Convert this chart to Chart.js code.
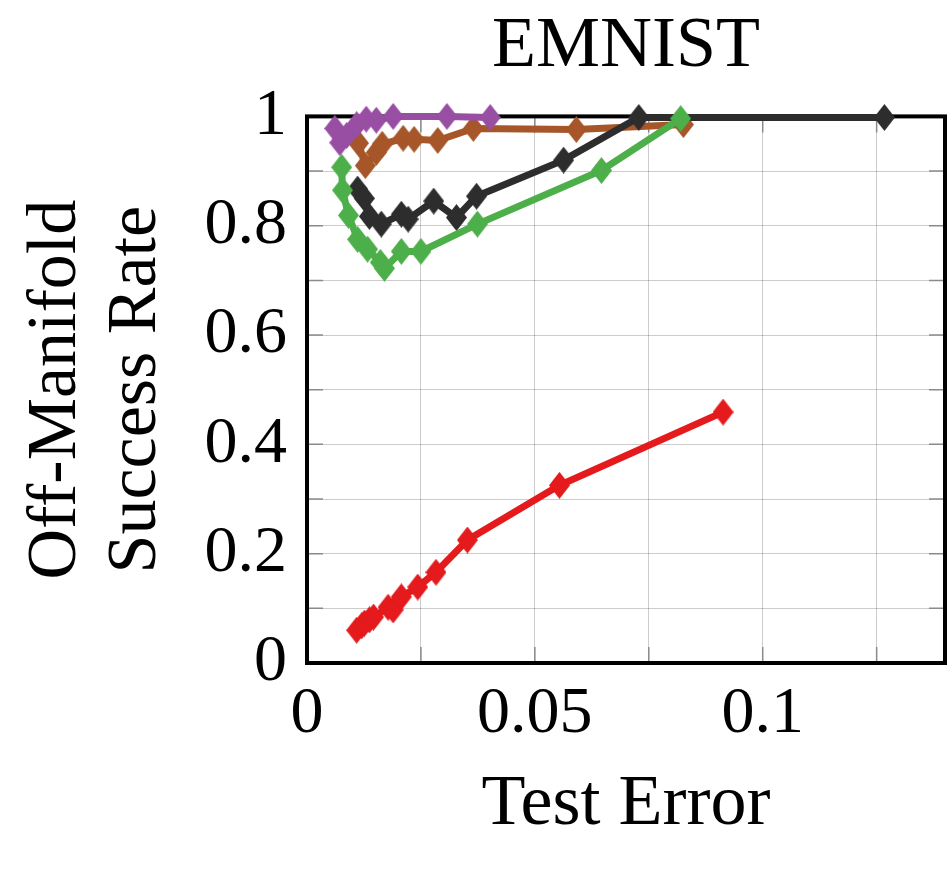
<!DOCTYPE html>
<html>
<head>
<meta charset="utf-8">
<title>EMNIST</title>
<script src="https://cdn.jsdelivr.net/npm/chart.js@4/dist/chart.umd.min.js"></script>
<style>
  html, body { margin: 0; padding: 0; background: #fff; }
  #chart { display: block; }
</style>
</head>
<body>
<canvas id="chart" width="949" height="872"></canvas>
<script>
// ---------------------------------------------------------------------
// Data
// ---------------------------------------------------------------------
const purpleX = [0.0061, 0.0072, 0.0087, 0.0109, 0.0130, 0.0152, 0.0189, 0.0307, 0.0402];
const purpleY = [0.978, 0.952, 0.965, 0.985, 0.995, 0.993, 1.000, 1.000, 0.998];

const greenX = [0.0076, 0.0078, 0.0091, 0.0111, 0.0133, 0.0161, 0.0170, 0.0207, 0.0250, 0.0374, 0.0646, 0.0820];
const greenY = [0.907, 0.865, 0.819, 0.775, 0.757, 0.733, 0.722, 0.753, 0.753, 0.803, 0.901, 0.996];

const blackX = [0.0111, 0.0126, 0.0137, 0.0163, 0.0207, 0.0222, 0.0278, 0.0328, 0.0372, 0.0563, 0.0728, 0.1267];
const blackY = [0.867, 0.850, 0.817, 0.803, 0.821, 0.812, 0.845, 0.815, 0.854, 0.920, 0.998, 0.998];

const brownX = [0.0113, 0.0128, 0.0152, 0.0165, 0.0211, 0.0235, 0.0287, 0.0365, 0.0591, 0.0826];
const brownY = [0.951, 0.910, 0.934, 0.949, 0.960, 0.958, 0.956, 0.978, 0.976, 0.985];

const redX = [0.0109, 0.0120, 0.0126, 0.0137, 0.0146, 0.0178, 0.0189, 0.0207, 0.0243, 0.0283, 0.0352, 0.0554, 0.0913];
const redY = [0.060, 0.068, 0.073, 0.079, 0.084, 0.102, 0.097, 0.121, 0.139, 0.166, 0.225, 0.325, 0.459];

const xTickValues = [0, 0.05, 0.1];
const xTickLabels = ["0", "0.05", "0.1"];
const yTickValues = [0, 0.2, 0.4, 0.6, 0.8, 1];
const yTickLabels = ["0", "0.2", "0.4", "0.6", "0.8", "1"];

// ---------------------------------------------------------------------
// Helpers
// ---------------------------------------------------------------------
const FONT = "'Liberation Serif', 'DejaVu Serif', serif";

function toPoints(xs, ys) {
  return xs.map((x, i) => ({ x, y: ys[i] }));
}

function labelFor(values, labels, v) {
  const i = values.findIndex((t) => Math.abs(t - v) < 1e-9);
  return i >= 0 ? labels[i] : "";
}

// pgfplots-like diamond marker (a bit taller than wide)
function diamond(color, w, h) {
  const c = document.createElement("canvas");
  c.width = w;
  c.height = h;
  const g = c.getContext("2d");
  g.fillStyle = color;
  g.beginPath();
  g.moveTo(w / 2, 0);
  g.lineTo(w, h / 2);
  g.lineTo(w / 2, h);
  g.lineTo(0, h / 2);
  g.closePath();
  g.fill();
  return c;
}

function series(xs, ys, color) {
  return {
    data: toPoints(xs, ys),
    borderColor: color,
    backgroundColor: color,
    borderWidth: 7,
    pointStyle: diamond(color, 21, 27),
    pointRadius: 11,
    pointHoverRadius: 11,
    pointBorderWidth: 0,
    tension: 0,
    clip: false,
  };
}

// frame box + small inward ticks, drawn under the data
const framePlugin = {
  id: "frame",
  beforeDatasetsDraw(chart) {
    const { ctx, chartArea: a, scales } = chart;
    ctx.save();
    ctx.strokeStyle = "#8a8a8a";
    ctx.lineWidth = 1.5;
    const len = 16;
    for (const t of scales.x.ticks) {
      const px = scales.x.getPixelForValue(t.value);
      ctx.beginPath();
      ctx.moveTo(px, a.bottom); ctx.lineTo(px, a.bottom - len);
      ctx.moveTo(px, a.top); ctx.lineTo(px, a.top + len);
      ctx.stroke();
    }
    for (const t of scales.y.ticks) {
      const py = scales.y.getPixelForValue(t.value);
      ctx.beginPath();
      ctx.moveTo(a.left, py); ctx.lineTo(a.left + len, py);
      ctx.moveTo(a.right, py); ctx.lineTo(a.right - len, py);
      ctx.stroke();
    }
    ctx.strokeStyle = "#000";
    ctx.lineWidth = 4;
    ctx.strokeRect(a.left, a.top, a.right - a.left, a.bottom - a.top);
    ctx.restore();
  },
};

// ---------------------------------------------------------------------
// Chart
// ---------------------------------------------------------------------
new Chart(document.getElementById("chart"), {
  type: "line",
  data: {
    datasets: [
      series(purpleX, purpleY, "#984ea3"),
      series(greenX, greenY, "#4daf4a"),
      series(blackX, blackY, "#2d2d2d"),
      series(brownX, brownY, "#a65628"),
      series(redX, redY, "#e41a1c"),
    ],
  },
  options: {
    responsive: false,
    animation: false,
    devicePixelRatio: 1,
    layout: { autoPadding: false, padding: { top: 0, right: 4, bottom: 0, left: 0 } },
    plugins: {
      legend: { display: false },
      tooltip: { enabled: false },
      title: {
        display: true,
        text: "EMNIST",
        fullSize: false,
        color: "#000",
        font: { family: FONT, size: 72, weight: "normal", lineHeight: 1.2 },
        padding: { top: 4, bottom: 26 },
      },
    },
    scales: {
      x: {
        type: "linear",
        min: 0,
        max: 0.14,
        afterFit(scale) {
          scale.height = 209;
          scale.paddingLeft = 0;
          scale.paddingRight = 0;
        },
        grid: { color: "rgba(0,0,0,0.2)", lineWidth: 1, drawTicks: false },
        border: { display: false },
        ticks: {
          stepSize: 0.025,
          includeBounds: false,
          autoSkip: false,
          maxRotation: 0,
          padding: 12,
          color: "#000",
          font: { family: FONT, size: 66 },
          callback: (v) => labelFor(xTickValues, xTickLabels, v),
        },
        title: {
          display: true,
          text: "Test Error",
          color: "#000",
          font: { family: FONT, size: 72, lineHeight: 1.2 },
          padding: { top: 0, bottom: 24 },
        },
      },
      y: {
        type: "linear",
        min: 0,
        max: 1,
        afterFit(scale) { scale.width = 307; },
        grid: { color: "rgba(0,0,0,0.2)", lineWidth: 1, drawTicks: false },
        border: { display: false },
        ticks: {
          stepSize: 0.1,
          autoSkip: false,
          padding: 20,
          color: "#000",
          font: { family: FONT, size: 66 },
          callback: (v) => labelFor(yTickValues, yTickLabels, v),
        },
        title: {
          display: true,
          text: ["Off-Manifold", "Success Rate"],
          color: "#000",
          font: { family: FONT, size: 70, lineHeight: 1.15 },
          padding: { top: 16, bottom: 0 },
        },
      },
    },
  },
  plugins: [framePlugin],
});
</script>
</body>
</html>
